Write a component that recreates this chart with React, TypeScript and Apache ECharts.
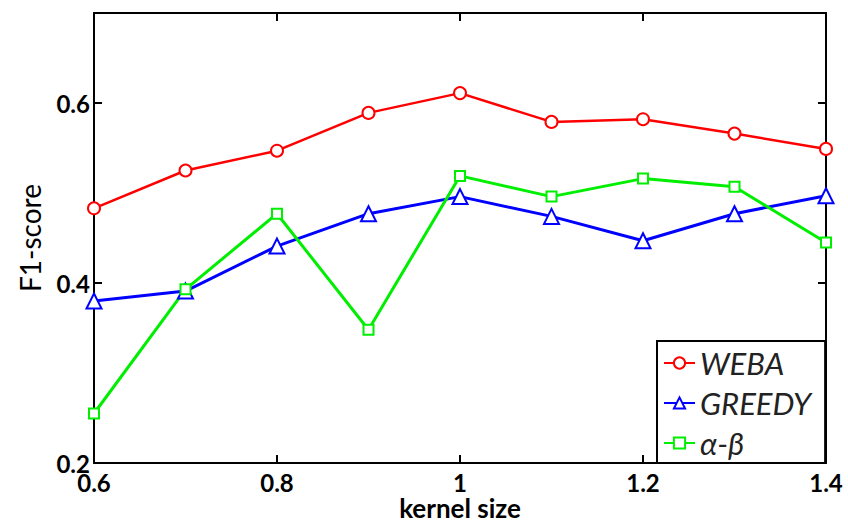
import React, { useEffect, useRef } from "react";
import * as echarts from "echarts";

const kernelSizes = [0.6, 0.7, 0.8, 0.9, 1.0, 1.1, 1.2, 1.3, 1.4];
const weba = [0.483, 0.525, 0.547, 0.589, 0.611, 0.579, 0.582, 0.566, 0.549];
const greedy = [0.38, 0.391, 0.441, 0.477, 0.496, 0.474, 0.447, 0.477, 0.497];
const alphaBeta = [0.255, 0.393, 0.477, 0.348, 0.519, 0.496, 0.516, 0.507, 0.445];
const seriesNames = ["WEBA", "GREEDY", "α-β"];

const FONT = "Lato, 'Open Sans', sans-serif";

const fmt = (v: number) => String(+Number(v).toFixed(2));

export default function App() {
  const ref = useRef<HTMLDivElement>(null);
  useEffect(() => {
    if (!ref.current) return;
    const chart = echarts.init(ref.current, undefined, { renderer: "svg" });
    const pair = (ys: number[]) => kernelSizes.map((x, i) => [x, ys[i]]);
    const axisLine = { show: true, lineStyle: { color: "#000", width: 2 } };
    const tick = { show: true, inside: true, length: 8, lineStyle: { color: "#000", width: 2 } };
    chart.setOption({
      animation: false,
      backgroundColor: "#fff",
      grid: { left: 94, right: 22, top: 13, bottom: 60, outerBoundsMode: "none", containLabel: false },
      xAxis: [
        {
          type: "value",
          min: 0.6,
          max: 1.4,
          interval: 0.2,
          position: "bottom",
          axisLine,
          axisTick: tick,
          splitLine: { show: false },
          axisLabel: {
            formatter: fmt,
            fontFamily: FONT,
            fontWeight: "bold",
            fontSize: 24,
            lineHeight: 24,
            color: "#000",
            margin: 7,
          },
          name: "kernel size",
          nameLocation: "middle",
          nameGap: 32,
          nameMoveOverlap: false,
          nameTextStyle: { fontFamily: FONT, fontWeight: "bold", fontSize: 26, lineHeight: 26, color: "#000" },
        },
        {
          type: "value",
          min: 0.6,
          max: 1.4,
          interval: 0.2,
          position: "top",
          axisLine,
          axisTick: tick,
          splitLine: { show: false },
          axisLabel: { show: false },
        },
      ],
      yAxis: [
        {
          type: "value",
          min: 0.2,
          max: 0.7,
          interval: 0.2,
          position: "left",
          axisLine,
          axisTick: tick,
          splitLine: { show: false },
          axisLabel: {
            formatter: fmt,
            showMaxLabel: false,
            fontFamily: FONT,
            fontWeight: "bold",
            fontSize: 24,
            color: "#000",
            margin: 4,
          },
          name: "F1-score",
          nameLocation: "middle",
          nameRotate: 90,
          nameGap: 50,
          nameTextStyle: { fontFamily: FONT, fontSize: 28, color: "#000" },
        },
        {
          type: "value",
          min: 0.2,
          max: 0.7,
          interval: 0.2,
          position: "right",
          axisLine,
          axisTick: tick,
          splitLine: { show: false },
          axisLabel: { show: false },
        },
      ],
      legend: {
        orient: "vertical",
        left: 657,
        top: 341,
        padding: [4, 14, 2, 6],
        itemGap: 4,
        itemWidth: 31,
        itemHeight: 14,
        borderColor: "#000",
        borderWidth: 2,
        backgroundColor: "#fff",
        textStyle: { fontFamily: FONT, fontStyle: "italic", fontSize: 31, lineHeight: 36, color: "#222" },
        data: seriesNames,
      },
      series: [
        {
          name: seriesNames[0],
          type: "line",
          data: pair(weba),
          symbol: "emptyCircle",
          symbolSize: 12,
          lineStyle: { color: "#ff0000", width: 2.5 },
          itemStyle: { color: "#ff0000", borderWidth: 2 },
        },
        {
          name: seriesNames[1],
          type: "line",
          data: pair(greedy),
          symbol: "emptyTriangle",
          symbolSize: 15,
          lineStyle: { color: "#0000ff", width: 3 },
          itemStyle: { color: "#0000ff", borderWidth: 2.5 },
        },
        {
          name: seriesNames[2],
          type: "line",
          data: pair(alphaBeta),
          symbol: "emptyRect",
          symbolSize: 10,
          lineStyle: { color: "#00ee00", width: 3 },
          itemStyle: { color: "#00ee00", borderWidth: 5 },
        },
      ],
    });
    return () => chart.dispose();
  }, []);
  return (
    <div
      ref={ref}
      style={{ position: "fixed", left: 0, top: 0, width: 848, height: 523 }}
    />
  );
}
